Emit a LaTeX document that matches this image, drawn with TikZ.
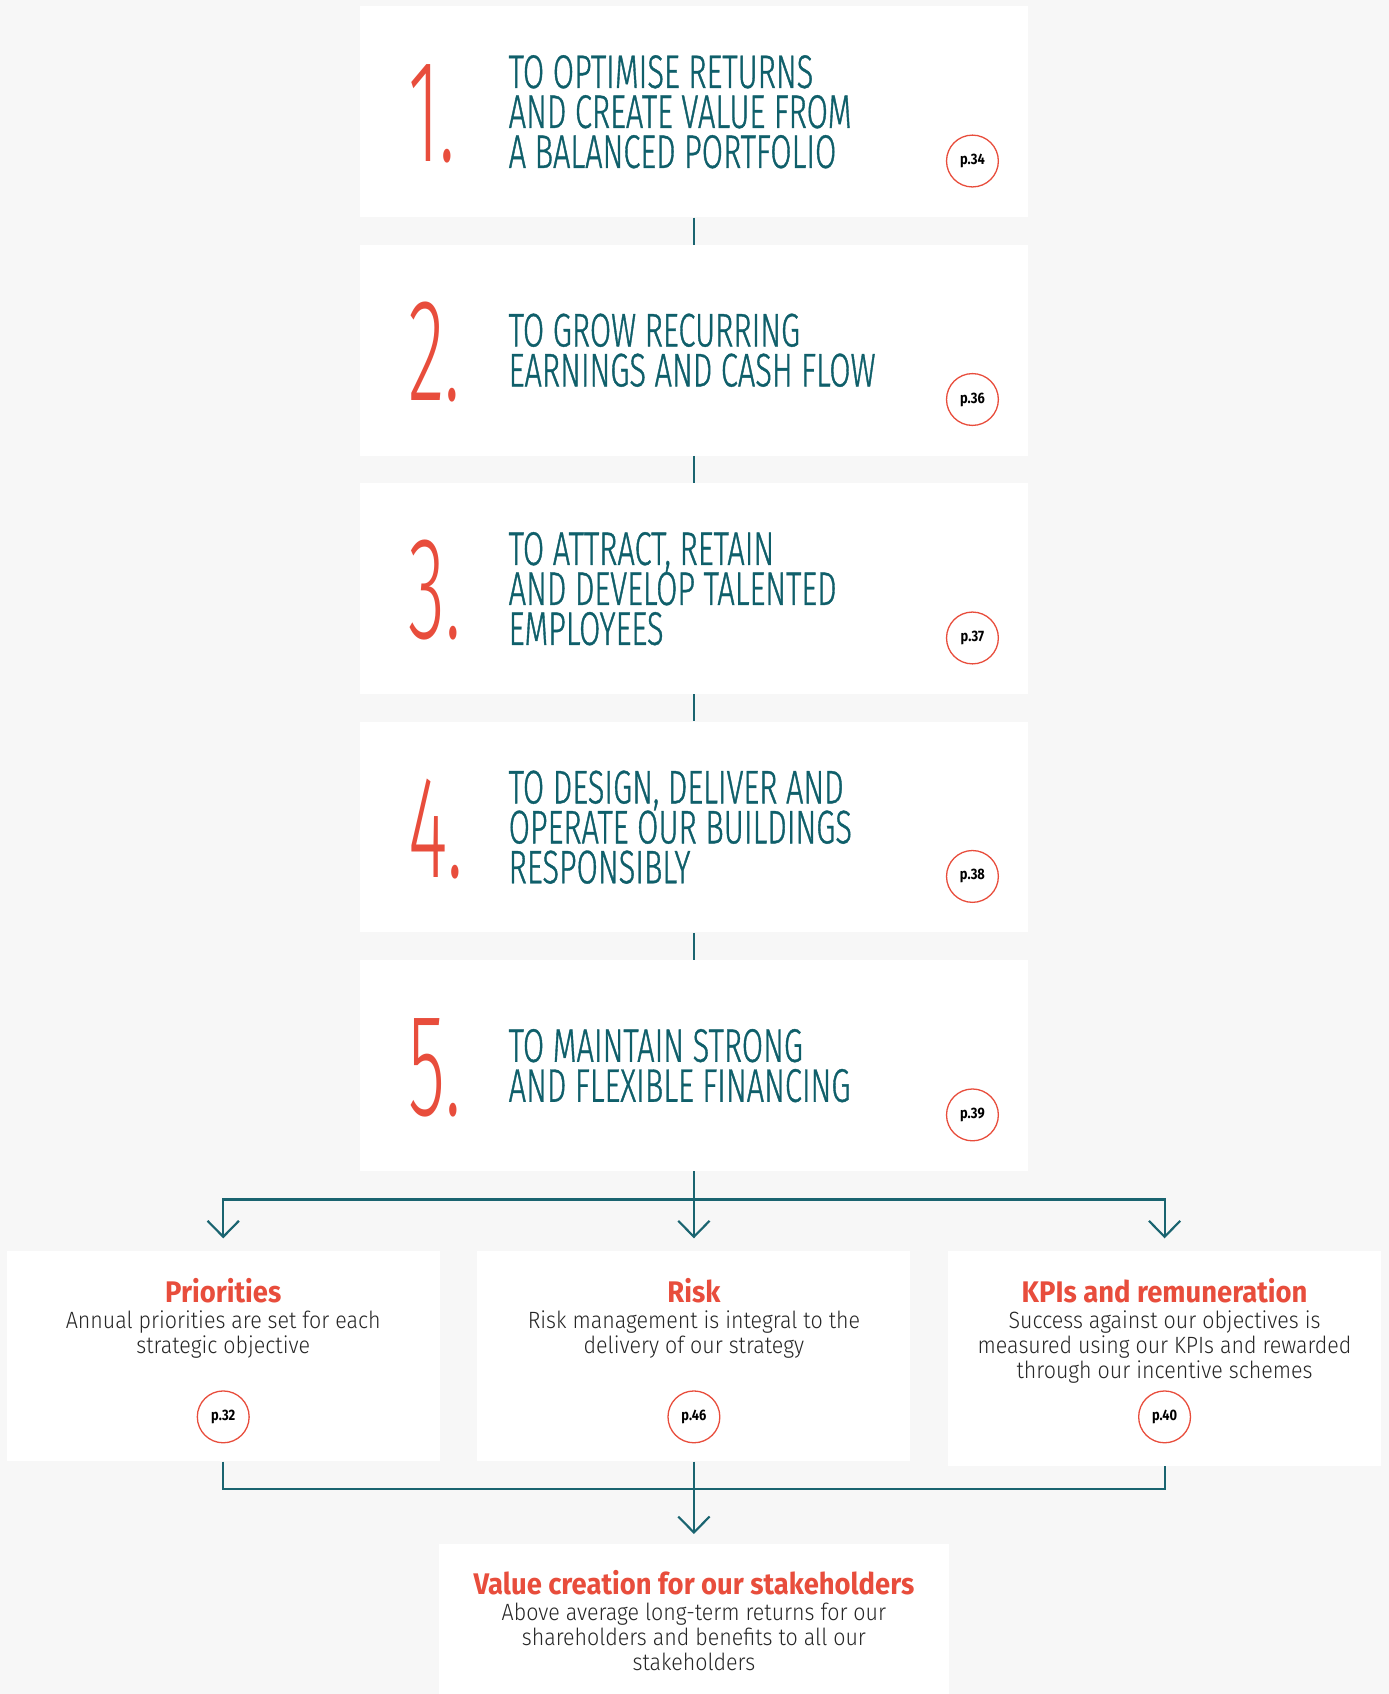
\documentclass[tikz,border=0pt]{standalone}
\usepackage{fontspec}
\usetikzlibrary{positioning,arrows.meta}
\newfontfamily\numfont[FakeStretch=0.52]{Fira Sans Light}
\newfontfamily\capsfont[FakeStretch=0.655, FakeBold=0.8]{Fira Sans Light}
\newfontfamily\descfont[FakeStretch=0.91]{Fira Sans Light}
\newfontfamily\headfont[FakeStretch=0.92]{Fira Sans}
\newfontfamily\pagefont[FakeStretch=0.85]{Fira Sans}
\definecolor{accent}{HTML}{E84D3C}
\definecolor{petrol}{HTML}{0F5F6A}
\definecolor{wire}{HTML}{1A6470}
\definecolor{canvas}{HTML}{F7F7F7}
\newcommand\headline[1]{{\headfont\bfseries\fontsize{13.8}{11.7}\selectfont\color{accent}#1}}

\begin{document}
\begin{tikzpicture} [x=0.5pt, y=-0.5pt,
			objbox/.style = {rectangle, fill=white, minimum width=309.5pt, minimum height=97.5pt, inner sep=0pt},
			sidebox/.style = {rectangle, fill=white, minimum width=200.5pt, minimum height=97.5pt, inner sep=0pt},
			num/.style = {anchor=base west, inner sep=0pt, text=accent, font=\numfont\fontsize{67.5}{67.5}\selectfont},
			goal/.style = {anchor=west, inner sep=0pt, align=left, text=petrol, font=\capsfont\fontsize{21.8}{18.5}\selectfont},
			page/.style = {circle, draw=accent, line width=0.6pt, fill=white, minimum size=24pt, inner sep=0pt, font=\pagefont\bfseries\fontsize{7}{7}\selectfont},
			blurb/.style = {anchor=north, inner sep=0pt, align=center, text=black!85, font=\descfont\fontsize{10.9}{11.7}\selectfont},
			link/.style = {draw=wire, line width=1pt},
			flow/.style = {link, -{Straight Barb[length=7.4pt, width=14.5pt]}}]
			\fill [canvas] (0,0) rectangle (1286,1568.5);
			\useasboundingbox (0,0) rectangle (1286,1568.5);

			\node (obj1) [objbox] at (642.5,103.5) {};
			\node (obj2) [objbox, below=12.5pt of obj1] {};
			\node (obj3) [objbox, below=12.5pt of obj2] {};
			\node (obj4) [objbox, below=12.5pt of obj3] {};
			\node (obj5) [objbox, below=12.5pt of obj4] {};

			\node (num1) [num] at ([xshift=22.5pt, yshift=-23.2pt]obj1.west) {1.};
			\node (num2) [num] at ([xshift=22.5pt, yshift=-23.2pt]obj2.west) {2.};
			\node (num3) [num] at ([xshift=22.5pt, yshift=-23.2pt]obj3.west) {3.};
			\node (num4) [num] at ([xshift=22.5pt, yshift=-23.2pt]obj4.west) {4.};
			\node (num5) [num] at ([xshift=22.5pt, yshift=-23.2pt]obj5.west) {5.};

			\node (goal1) [goal] at ([xshift=69pt]obj1.west) {TO OPTIMISE RETURNS\\AND CREATE VALUE FROM\\A BALANCED PORTFOLIO};
			\node (goal2) [goal] at ([xshift=69pt]obj2.west) {TO GROW RECURRING\\EARNINGS AND CASH FLOW};
			\node (goal3) [goal] at ([xshift=69pt]obj3.west) {TO ATTRACT, RETAIN\\AND DEVELOP TALENTED\\EMPLOYEES};
			\node (goal4) [goal] at ([xshift=69pt]obj4.west) {TO DESIGN, DELIVER AND\\OPERATE OUR BUILDINGS\\RESPONSIBLY};
			\node (goal5) [goal] at ([xshift=69pt]obj5.west) {TO MAINTAIN STRONG\\AND FLEXIBLE FINANCING};

			\node (pg1) [page] at ([xshift=-26pt, yshift=-22.8pt]obj1.east) {p.34};
			\node (pg2) [page] at ([xshift=-26pt, yshift=-22.8pt]obj2.east) {p.36};
			\node (pg3) [page] at ([xshift=-26pt, yshift=-22.8pt]obj3.east) {p.37};
			\node (pg4) [page] at ([xshift=-26pt, yshift=-22.8pt]obj4.east) {p.38};
			\node (pg5) [page] at ([xshift=-26pt, yshift=-22.8pt]obj5.east) {p.39};

			\node (risk) [sidebox, below=36.5pt of obj5] {};
			\node (prio) [sidebox, left=17pt of risk] {};
			\node (kpi) [sidebox, right=17pt of risk, minimum height=99.5pt, yshift=-1pt] {};
			\node (value) [rectangle, fill=white, minimum width=236pt, minimum height=75pt, inner sep=0pt, below=38pt of risk] {};

			\node (prioText) [blurb] at ([yshift=-13pt]prio.north) {\headline{Priorities}\\Annual priorities are set for each\\strategic objective};
			\node (riskText) [blurb] at ([yshift=-13pt]risk.north) {\headline{Risk}\\Risk management is integral to the\\delivery of our strategy};
			\node (kpiText) [blurb] at ([yshift=-13pt]kpi.north) {\headline{KPIs and remuneration}\\Success against our objectives is\\measured using our KPIs and rewarded\\through our incentive schemes};
			\node (valueText) [blurb] at ([yshift=-12.3pt]value.north) {\headline{Value creation for our stakeholders}\\Above average long-term returns for our\\shareholders and benefits to all our\\stakeholders};

			\node (pg6) [page] at ([yshift=-28.2pt]prio.center) {p.32};
			\node (pg7) [page] at ([yshift=-28.2pt]risk.center) {p.46};
			\node (pg8) [page] at ([yshift=-28.2pt]risk.center -| kpi.center) {p.40};

			\path [link] (obj1.south) -- (obj2.north);
			\path [link] (obj2.south) -- (obj3.north);
			\path [link] (obj3.south) -- (obj4.north);
			\path [link] (obj4.south) -- (obj5.north);

			\coordinate (split) at ([yshift=-13pt]obj5.south);
			\path [link] (obj5.south) -- (split);
			\path [flow, shorten >=5.5pt] (split) -| (prio.north);
			\path [flow, shorten >=5.5pt] (split) -- (risk.north);
			\path [flow, shorten >=5.5pt] (split) -| (kpi.north);

			\coordinate (join) at ([yshift=-12.5pt]risk.south);
			\path [link] (prio.south) |- (join) -| (kpi.south);
			\path [flow, shorten >=4.5pt] (risk.south) -- (value.north);
		\end{tikzpicture}
\end{document}
